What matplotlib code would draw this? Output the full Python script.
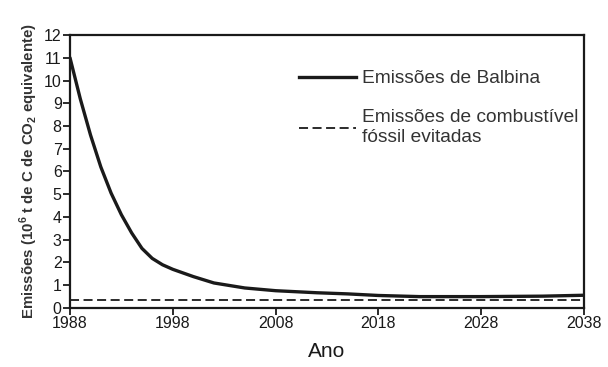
import matplotlib
matplotlib.use("Agg")
import matplotlib.pyplot as plt
from matplotlib.lines import Line2D

plt.rcParams["font.family"] = ["Liberation Sans", "DejaVu Sans"]
plt.rcParams["mathtext.fontset"] = "custom"
plt.rcParams["mathtext.rm"] = "Liberation Sans"
plt.rcParams["mathtext.bf"] = "Liberation Sans:bold"

# Balbina dam emissions, 10^6 t C (CO2 equivalent)
balbina_years = [1988, 1988.5, 1989, 1990, 1991, 1992, 1993, 1994, 1995, 1996,
                 1997, 1998, 2000, 2002, 2005, 2008, 2012, 2015, 2018, 2022,
                 2028, 2034, 2038]
balbina_vals = [11.0, 10.1, 9.2, 7.6, 6.2, 5.05, 4.1, 3.3, 2.62, 2.18,
                1.9, 1.7, 1.38, 1.1, 0.88, 0.76, 0.67, 0.62, 0.55, 0.5,
                0.5, 0.52, 0.56]

# avoided fossil-fuel emissions
fossil_years = [1988, 2038]
fossil_vals = [0.35, 0.35]

x_ticks = [1988, 1998, 2008, 2018, 2028, 2038]
y_ticks = list(range(0, 13))

ink = "#1a1a1a"

fig = plt.figure(figsize=(6.08, 3.67), dpi=100)
ax = fig.add_axes([0.1151, 0.1608, 0.8454, 0.7438])

ax.plot(balbina_years, balbina_vals, color=ink, lw=2.4,
        solid_capstyle="round", solid_joinstyle="round")
ax.plot(fossil_years, fossil_vals, color=ink, lw=1.3, dashes=(5, 2.5))

ax.set_xlim(1988, 2038)
ax.set_ylim(0, 12)
ax.set_xticks(x_ticks)
ax.set_yticks(y_ticks)

for s in ax.spines.values():
    s.set_linewidth(1.6)
    s.set_color(ink)

ax.tick_params(axis="both", direction="out", length=5, width=1.3,
               colors=ink, labelsize=11.5, pad=1)
for lab in ax.get_xticklabels() + ax.get_yticklabels():
    lab.set_family(["Liberation Sans Narrow", "Liberation Sans", "DejaVu Sans"])

ax.set_xlabel("Ano", fontsize=15, color=ink, labelpad=8)
ax.set_ylabel(r"Emissões (10$^{\mathbf{6}}$ t de C de CO$_{\mathbf{2}}$ equivalente)",
              fontsize=10.8, fontweight="bold", color="#333333", labelpad=3)

# legend placed in the upper right part of the plot area
h1 = Line2D([0], [0], color=ink, lw=2.4)
h2 = Line2D([0], [0], color=ink, lw=1.3, dashes=(5, 2.5))
leg = ax.legend([h1, h2],
                ["Emissões de Balbina", "Emissões de combustível\nfóssil evitadas"],
                loc="upper left", bbox_to_anchor=(0.43, 0.90),
                frameon=False, fontsize=13.8, handlelength=3.0,
                handletextpad=0.3, labelspacing=1.15, borderaxespad=0)
for t in leg.get_texts():
    t.set_color("#333333")

fig.savefig("out.png", dpi=100)
